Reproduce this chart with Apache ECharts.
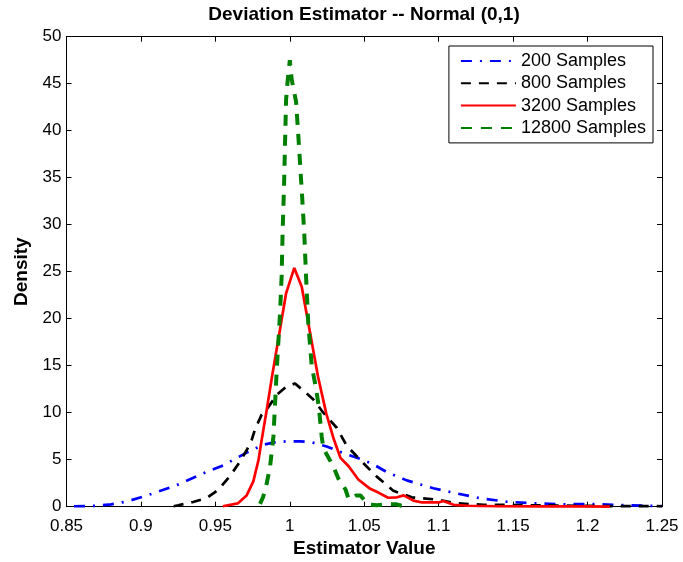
<!DOCTYPE html>
<html>
<head>
<meta charset="utf-8">
<script src="https://cdn.jsdelivr.net/npm/echarts@6/dist/echarts.min.js"></script>
<style>
  html, body { margin: 0; padding: 0; background: #fff; }
  #chart { width: 683px; height: 562px; }
</style>
</head>
<body>
<div id="chart"></div>
<script>
// Kernel density estimates of the deviation estimator, as [estimator value, density]
const samples200 = [
  [0.855, 0.05], [0.868, 0.08], [0.880, 0.25], [0.8904, 0.55], [0.900, 1.0],
  [0.9083, 1.42], [0.924, 2.3], [0.9397, 3.4], [0.9553, 4.4], [0.971, 5.75],
  [0.9822, 6.6], [0.990, 6.85], [0.9979, 6.95], [1.0068, 6.95], [1.0136, 6.9],
  [1.0248, 6.4], [1.036, 5.7], [1.0471, 5.1], [1.055, 4.6], [1.065, 3.7],
  [1.0785, 2.8], [1.0964, 1.96], [1.112, 1.42], [1.1278, 0.9], [1.1457, 0.53],
  [1.1636, 0.36], [1.186, 0.25], [1.2016, 0.3], [1.2196, 0.18], [1.2397, 0.1],
  [1.250, 0.07]
];
const samples800 = [
  [0.922, 0.05], [0.925, 0.15], [0.935, 0.5], [0.944, 0.9], [0.952, 1.8],
  [0.960, 3.3], [0.9665, 4.8], [0.971, 6.0], [0.9744, 7.1], [0.9766, 8.2],
  [0.9811, 9.8], [0.9856, 10.6], [0.9912, 11.9], [0.9979, 12.8], [1.0035, 13.1],
  [1.0102, 12.2], [1.0158, 11.4], [1.0225, 10.0], [1.0315, 8.4], [1.0382, 6.5],
  [1.0471, 5.0], [1.0584, 3.2], [1.0695, 1.7], [1.0819, 1.0], [1.099, 0.75],
  [1.112, 0.36], [1.130, 0.2], [1.150, 0.18], [1.180, 0.12], [1.210, 0.07],
  [1.250, 0.05]
];
const samples3200 = [
  [0.955, 0.05], [0.965, 0.35], [0.971, 1.2], [0.9755, 2.7], [0.979, 5.0],
  [0.981, 7.0], [0.9845, 10.3], [0.988, 13.8], [0.9925, 18.0], [0.9975, 22.7],
  [1.003, 25.4], [1.008, 23.4], [1.0136, 18.5], [1.019, 13.8], [1.0245, 9.9],
  [1.0295, 7.2], [1.034, 5.2], [1.0395, 4.3], [1.046, 2.9], [1.054, 1.9],
  [1.0595, 1.5], [1.066, 0.95], [1.072, 1.0], [1.0765, 1.2], [1.083, 0.65],
  [1.089, 0.45], [1.100, 0.45], [1.103, 0.6], [1.110, 0.2], [1.120, 0.1],
  [1.140, 0.05], [1.170, 0.03], [1.200, 0.03], [1.215, 0.0]
];
const samples12800 = [
  [0.980, 0.3], [0.982, 1.0], [0.9845, 2.5], [0.9867, 4.2], [0.989, 7.5],
  [0.9912, 14.5], [0.9934, 20.5], [0.9945, 24.5], [0.9952, 29.4], [0.9961, 34.0],
  [0.9968, 38.7], [0.9975, 43.3], [0.9986, 45.4], [1.000, 47.5], [1.0013, 45.4],
  [1.0042, 43.1], [1.0062, 38.3], [1.008, 33.7], [1.0097, 29.1], [1.0109, 24.5],
  [1.0124, 19.5], [1.0147, 15.0], [1.0176, 12.6], [1.0195, 10.6], [1.0214, 7.5],
  [1.0225, 6.2], [1.025, 5.5], [1.0292, 4.3], [1.0326, 3.0], [1.0349, 2.5],
  [1.0375, 1.8], [1.0395, 0.8], [1.0415, 0.9], [1.0445, 1.2], [1.0475, 1.2],
  [1.0505, 0.6], [1.0545, 0.2], [1.0584, 0.15], [1.065, 0.25], [1.0718, 0.25],
  [1.075, 0.1], [1.080, 0.0]
];
const seriesNames = ['200 Samples', '800 Samples', '3200 Samples', '12800 Samples'];
const xTicks = { min: 0.85, max: 1.25, step: 0.05 };
const yTicks = { min: 0, max: 50, step: 5 };

const FONT = '"Liberation Sans", Arial, Helvetica, sans-serif';
const chart = echarts.init(document.getElementById('chart'), null, { renderer: 'canvas' });

const tickStyle = { show: true, inside: true, length: 5, lineStyle: { color: '#000', width: 1 } };
const lineAxis = { show: true, onZero: false, lineStyle: { color: '#000', width: 1 } };
const fmtX = v => String(Math.round(v * 100) / 100);

function xAxis(position, labels) {
  return {
    type: 'value', position: position,
    min: xTicks.min, max: xTicks.max, interval: xTicks.step,
    axisLine: lineAxis, axisTick: tickStyle, splitLine: { show: false },
    axisLabel: labels ? { show: true, formatter: fmtX, color: '#000', fontSize: 17, fontFamily: FONT, margin: 11 } : { show: false },
    name: labels ? 'Estimator Value' : '', nameLocation: 'middle', nameGap: 30,
    nameTextStyle: { color: '#000', fontSize: 19, fontWeight: 'bold', fontFamily: FONT }
  };
}
function yAxis(position, labels) {
  return {
    type: 'value', position: position,
    min: yTicks.min, max: yTicks.max, interval: yTicks.step,
    axisLine: lineAxis, axisTick: tickStyle, splitLine: { show: false },
    axisLabel: labels ? { show: true, color: '#000', fontSize: 17, fontFamily: FONT, margin: 5 } : { show: false },
    name: labels ? 'Density' : '', nameLocation: 'middle', nameGap: 34, nameRotate: 90,
    nameTextStyle: { color: '#000', fontSize: 19, fontWeight: 'bold', fontFamily: FONT }
  };
}

function curve(name, data, color, width, dash) {
  return {
    name: name, type: 'line', data: data, xAxisIndex: 0, yAxisIndex: 0,
    symbol: 'none', smooth: false, animation: false,
    lineStyle: { color: color, width: width, type: dash, cap: 'butt' },
    itemStyle: { color: color }
  };
}

chart.setOption({
  animation: false,
  backgroundColor: '#fff',
  grid: { left: 66.5, right: 21, top: 36.7, bottom: 55.3, outerBoundsMode: 'none', containLabel: false },
  graphic: [{
    type: 'text', x: 364, y: 15,
    style: {
      text: 'Deviation Estimator -- Normal (0,1)', align: 'center', verticalAlign: 'middle',
      fill: '#000', font: 'bold 19px ' + FONT
    }
  }],
  legend: {
    orient: 'vertical', right: 30, top: 46, align: 'left',
    backgroundColor: '#fff', borderColor: '#000', borderWidth: 1, borderRadius: 0,
    padding: [6, 7, 6, 11], itemWidth: 55, itemHeight: 16, itemGap: 4.3,
    itemStyle: { opacity: 0 },
    textStyle: { color: '#000', fontSize: 18, fontFamily: FONT },
    data: seriesNames
  },
  xAxis: [xAxis('bottom', true), xAxis('top', false)],
  yAxis: [yAxis('left', true), yAxis('right', false)],
  series: [
    curve(seriesNames[0], samples200, '#0000ff', 2.7, [11, 8, 2, 8]),
    curve(seriesNames[1], samples800, '#000000', 2.7, [10, 8]),
    curve(seriesNames[2], samples3200, '#ff0000', 2.7, 'solid'),
    curve(seriesNames[3], samples12800, '#008000', 4, [11, 9])
  ]
});
</script>
</body>
</html>
